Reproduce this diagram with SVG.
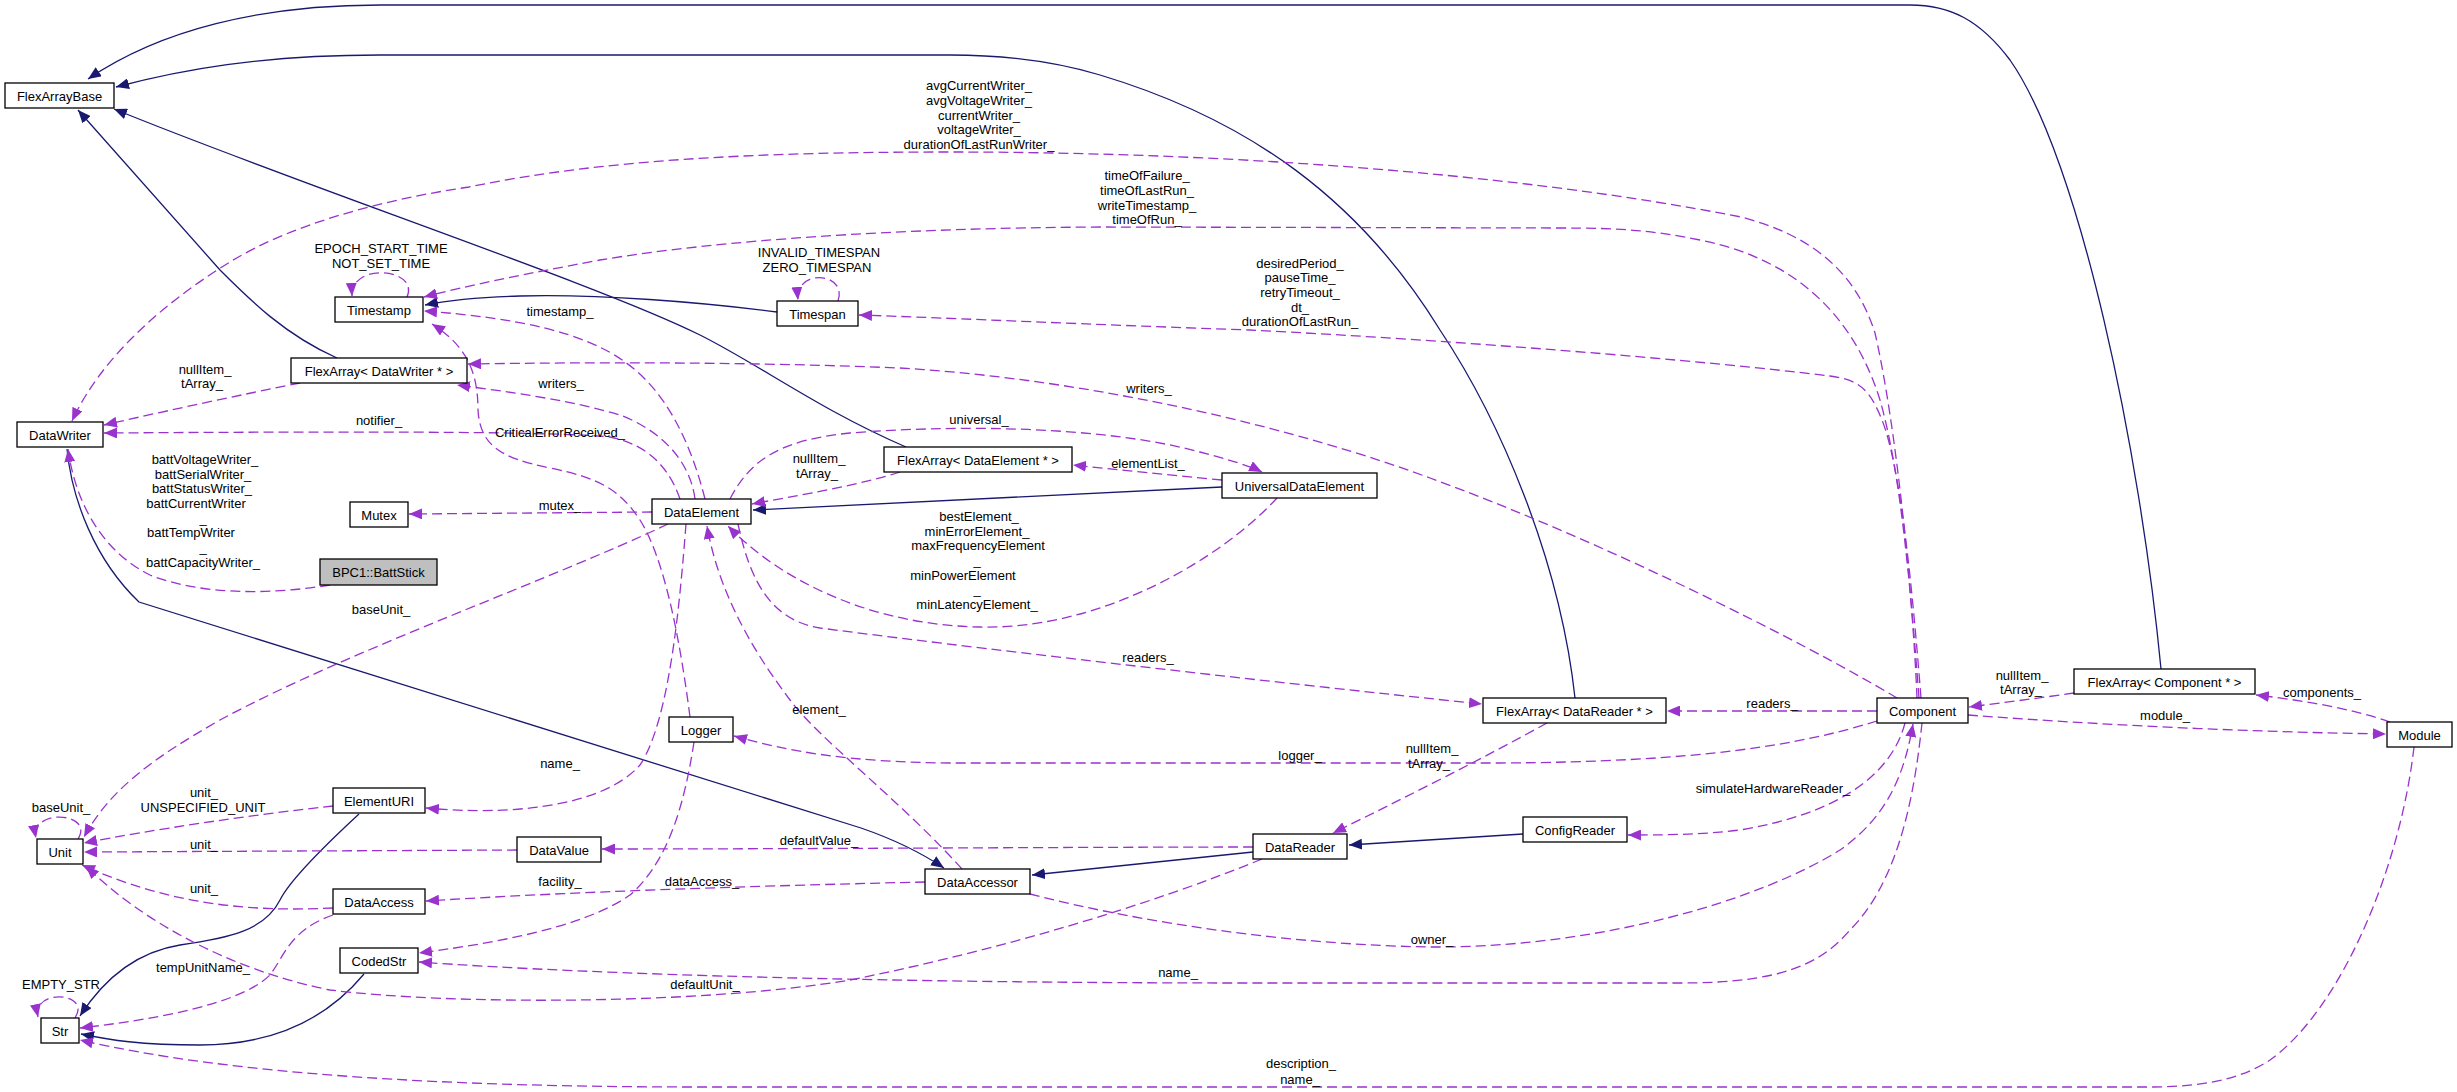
<svg xmlns="http://www.w3.org/2000/svg" width="2457" height="1092" viewBox="0 0 2457 1092">
<style>
.n rect{fill:#fff;stroke:#000;stroke-width:1.3}
.n rect.g{fill:#bfbfbf}
text{font-family:"Liberation Sans",Arial,sans-serif;font-size:13px;fill:#000;text-anchor:middle}
.u{fill:none;stroke:#9a32cd;stroke-width:1.3;stroke-dasharray:10,5;marker-end:url(#ap)}
.i{fill:none;stroke:#191970;stroke-width:1.3;marker-end:url(#ai)}
</style>
<defs>
<marker id="ap" markerUnits="userSpaceOnUse" markerWidth="14" markerHeight="11" refX="13" refY="5.5" orient="auto"><path d="M0,0 L13,5.5 L0,11 z" fill="#9a32cd"/></marker>
<marker id="ai" markerUnits="userSpaceOnUse" markerWidth="14" markerHeight="11" refX="13" refY="5.5" orient="auto"><path d="M0,0 L13,5.5 L0,11 z" fill="#191970"/></marker>
</defs>
<rect width="2457" height="1092" fill="#fff"/>
<g id="connectors">
<path class="i" d="M2161,669 C2140,450 2080,160 2010,60 C1980,20 1950,5 1910,5 L380,5 C260,5 160,30 88,79"/>
<path class="i" d="M1575,698 C1560,560 1500,420 1440,330 C1360,200 1250,120 1100,75 C1050,60 1000,55 950,55 L380,55 C260,55 180,70 116,87"/>
<path class="i" d="M906,447 C820,410 760,365 700,335 C600,285 300,185 114,109"/>
<path class="i" d="M337,358 C285,335 250,300 220,270 L78,110"/>
<path class="i" d="M777,312 C700,302 600,294 520,296 C480,297 450,300 425,305"/>
<path class="i" d="M1222,487 L753,510"/>
<path class="i" d="M67,449 C72,500 95,560 139,602 L861,828 C890,838 920,852 944,868"/>
<path class="i" d="M1253,852 L1032,875"/>
<path class="i" d="M1523,834 L1349,845"/>
<path class="i" d="M359,814 C320,850 290,880 280,900 C265,930 230,938 180,945 C130,953 100,985 80,1016"/>
<path class="i" d="M364,974 C330,1015 280,1045 200,1045 C140,1045 110,1040 81,1034"/>

<path class="u" d="M1917,698 C1912,580 1895,420 1875,333 C1855,270 1810,235 1741,217 C1500,170 1200,152 951,152 C750,152 600,160 469,187 C380,200 290,225 230,262 C160,305 100,360 72,421"/>
<path class="u" d="M1919,698 C1910,580 1900,470 1880,400 C1855,320 1800,260 1700,240 C1650,230 1620,228 1560,228 L1100,227 C900,228 720,240 600,260 C520,275 470,285 424,297"/>
<path class="u" d="M1921,698 C1914,610 1902,470 1882,420 C1870,390 1860,380 1830,376 C1700,360 1450,340 1250,330 C1100,325 950,318 859,315"/>
<path class="u" d="M1897,698 C1800,640 1600,540 1430,478 C1300,430 1100,380 900,368 C750,362 600,362 468,364"/>
<path class="u" d="M695,499 C690,460 660,430 620,415 C570,400 510,392 457,385"/>
<path class="u" d="M680,499 C670,470 650,445 610,437 C560,432 400,431 104,433"/>
<path class="u" d="M705,499 C690,440 665,390 625,362 C585,333 520,318 424,311"/>
<path class="u" d="M690,717 C680,640 665,560 640,520 C620,490 600,478 550,468 C500,458 480,445 478,410 C478,370 465,345 432,324"/>
<path class="u" d="M652,512 L409,514"/>
<path class="u" d="M330,585 C270,595 200,595 150,575 C100,550 75,500 68,449"/>
<path class="u" d="M668,524 C550,580 350,650 220,720 C150,760 110,790 84,837"/>
<path class="u" d="M686,524 C680,600 670,720 640,765 C600,810 500,815 426,808"/>
<path class="u" d="M730,499 C750,460 780,440 850,433 C950,425 1100,425 1200,452 C1230,460 1250,466 1262,472"/>
<path class="u" d="M900,472 C860,485 800,495 752,504"/>
<path class="u" d="M1222,480 C1170,475 1120,470 1073,465"/>
<path class="u" d="M1277,498 C1220,560 1100,630 980,627 C870,625 780,580 728,526"/>
<path class="u" d="M738,524 C750,580 770,620 820,628 C950,645 1250,680 1482,704"/>
<path class="u" d="M962,869 C900,800 820,740 790,700 C760,660 720,600 707,526"/>
<path class="u" d="M1877,721 C1800,745 1700,762 1500,763 L950,763 C850,762 790,752 734,736"/>
<path class="u" d="M1877,711 L1667,711"/>
<path class="u" d="M1547,723 C1480,760 1400,800 1333,833"/>
<path class="u" d="M1905,723 C1890,780 1830,815 1740,830 C1700,835 1660,835 1628,835"/>
<path class="u" d="M2074,693 C2040,698 2000,703 1969,707"/>
<path class="u" d="M1968,715 C2100,725 2250,732 2386,734"/>
<path class="u" d="M2390,722 C2350,708 2300,700 2256,695"/>
<path class="u" d="M2414,747 C2400,870 2340,1010 2270,1060 C2240,1080 2200,1087 2150,1087 L700,1087 C450,1087 230,1075 80,1040"/>
<path class="u" d="M1030,894 C1150,925 1300,945 1430,947 C1600,948 1760,900 1840,850 C1890,815 1905,770 1913,724"/>
<path class="u" d="M1922,723 C1915,790 1900,880 1850,930 C1820,965 1780,983 1680,983 L1250,983 C900,983 600,975 419,962"/>
<path class="u" d="M1253,847 C1100,847 800,849 602,849"/>
<path class="u" d="M1262,859 C1150,905 1000,950 850,980 C700,1005 450,1005 330,990 C230,970 140,920 86,866"/>
<path class="u" d="M925,882 C800,885 600,890 426,901"/>
<path class="u" d="M694,742 C685,800 670,860 630,895 C580,930 480,945 419,953"/>
<path class="u" d="M333,806 C250,815 150,830 84,843"/>
<path class="u" d="M517,850 L84,852"/>
<path class="u" d="M333,908 C250,912 170,905 82,865"/>
<path class="u" d="M333,915 C290,930 285,955 270,975 C240,1005 150,1020 80,1028"/>
<path class="u" d="M300,383 C240,395 170,410 104,425"/>
<path class="u" d="M407,297 C420,268 350,262 352,296"/>
<path class="u" d="M838,301 C848,272 795,268 798,300"/>
<path class="u" d="M78,839 C95,812 30,808 36,838"/>
<path class="u" d="M75,1018 C92,992 32,988 38,1017"/>

<text x="979" y="90">avgCurrentWriter_</text>
<text x="979" y="105">avgVoltageWriter_</text>
<text x="979" y="120">currentWriter_</text>
<text x="979" y="134">voltageWriter_</text>
<text x="979" y="149">durationOfLastRunWriter_</text>
<text x="1147" y="180">timeOfFailure_</text>
<text x="1147" y="195">timeOfLastRun_</text>
<text x="1147" y="210">writeTimestamp_</text>
<text x="1147" y="224">timeOfRun_</text>
<text x="1300" y="268">desiredPeriod_</text>
<text x="1300" y="282">pauseTime_</text>
<text x="1300" y="297">retryTimeout_</text>
<text x="1300" y="312">dt_</text>
<text x="1300" y="326">durationOfLastRun_</text>
<text x="381" y="253">EPOCH_START_TIME</text>
<text x="381" y="268">NOT_SET_TIME</text>
<text x="819" y="257">INVALID_TIMESPAN</text>
<text x="817" y="272">ZERO_TIMESPAN</text>
<text x="560" y="316">timestamp_</text>
<text x="205" y="374">nullItem_</text>
<text x="202" y="388">tArray_</text>
<text x="561" y="388">writers_</text>
<text x="1149" y="393">writers_</text>
<text x="379" y="425">notifier_</text>
<text x="560" y="437">CriticalErrorReceived_</text>
<text x="979" y="424">universal_</text>
<text x="819" y="463">nullItem_</text>
<text x="817" y="478">tArray_</text>
<text x="1148" y="468">elementList_</text>
<text x="560" y="510">mutex_</text>
<text x="979" y="521">bestElement_</text>
<text x="977" y="536">minErrorElement_</text>
<text x="978" y="550">maxFrequencyElement</text>
<text x="977" y="565">_</text>
<text x="963" y="580">minPowerElement</text>
<text x="977" y="594">_</text>
<text x="977" y="609">minLatencyElement_</text>
<text x="205" y="464">battVoltageWriter_</text>
<text x="203" y="479">battSerialWriter_</text>
<text x="202" y="493">battStatusWriter_</text>
<text x="196" y="508">battCurrentWriter</text>
<text x="203" y="523">_</text>
<text x="191" y="537">battTempWriter</text>
<text x="203" y="552">_</text>
<text x="203" y="567">battCapacityWriter_</text>
<text x="381" y="614">baseUnit_</text>
<text x="1148" y="662">readers_</text>
<text x="1772" y="708">readers_</text>
<text x="2022" y="680">nullItem_</text>
<text x="2021" y="694">tArray_</text>
<text x="2322" y="697">components_</text>
<text x="2165" y="720">module_</text>
<text x="819" y="714">element_</text>
<text x="1432" y="753">nullItem_</text>
<text x="1429" y="768">tArray_</text>
<text x="1300" y="760">logger_</text>
<text x="560" y="768">name_</text>
<text x="1773" y="793">simulateHardwareReader_</text>
<text x="204" y="797">unit_</text>
<text x="203" y="812">UNSPECIFIED_UNIT</text>
<text x="61" y="812">baseUnit_</text>
<text x="819" y="845">defaultValue_</text>
<text x="204" y="849">unit_</text>
<text x="560" y="886">facility_</text>
<text x="702" y="886">dataAccess_</text>
<text x="204" y="893">unit_</text>
<text x="1432" y="944">owner_</text>
<text x="203" y="972">tempUnitName_</text>
<text x="1178" y="977">name_</text>
<text x="705" y="989">defaultUnit_</text>
<text x="61" y="989">EMPTY_STR</text>
<text x="1301" y="1068">description_</text>
<text x="1300" y="1084">name_</text>
</g>
<g id="FlexArrayBase" class="n"><rect x="5" y="83" width="109" height="25"/><text x="59.5" y="100.5">FlexArrayBase</text></g>
<g id="Timestamp" class="n"><rect x="335" y="297" width="88" height="25"/><text x="379" y="314.5">Timestamp</text></g>
<g id="Timespan" class="n"><rect x="777" y="301" width="81" height="25"/><text x="817.5" y="318.5">Timespan</text></g>
<g id="FlexArrayDataWriter" class="n"><rect x="291" y="358" width="176" height="25"/><text x="379" y="375.5">FlexArray&lt; DataWriter * &gt;</text></g>
<g id="DataWriter" class="n"><rect x="17" y="422" width="86" height="25"/><text x="60" y="439.5">DataWriter</text></g>
<g id="FlexArrayDataElement" class="n"><rect x="884" y="447" width="188" height="25"/><text x="978" y="464.5">FlexArray&lt; DataElement * &gt;</text></g>
<g id="UniversalDataElement" class="n"><rect x="1222" y="473" width="155" height="25"/><text x="1299.5" y="490.5">UniversalDataElement</text></g>
<g id="DataElement" class="n"><rect x="652" y="499" width="99" height="25"/><text x="701.5" y="516.5">DataElement</text></g>
<g id="Mutex" class="n"><rect x="350" y="502" width="58" height="25"/><text x="379" y="519.5">Mutex</text></g>
<g id="BattStick" class="n"><rect class="g" x="320" y="559" width="117" height="26"/><text x="378.5" y="577">BPC1::BattStick</text></g>
<g id="FlexArrayComponent" class="n"><rect x="2074" y="669" width="181" height="25"/><text x="2164.5" y="686.5">FlexArray&lt; Component * &gt;</text></g>
<g id="FlexArrayDataReader" class="n"><rect x="1483" y="698" width="183" height="25"/><text x="1574.5" y="715.5">FlexArray&lt; DataReader * &gt;</text></g>
<g id="Component" class="n"><rect x="1877" y="698" width="91" height="25"/><text x="1922.5" y="715.5">Component</text></g>
<g id="Logger" class="n"><rect x="669" y="717" width="64" height="25"/><text x="701" y="734.5">Logger</text></g>
<g id="Module" class="n"><rect x="2387" y="722" width="65" height="25"/><text x="2419.5" y="739.5">Module</text></g>
<g id="ElementURI" class="n"><rect x="333" y="788" width="92" height="25"/><text x="379" y="805.5">ElementURI</text></g>
<g id="ConfigReader" class="n"><rect x="1523" y="817" width="104" height="25"/><text x="1575" y="834.5">ConfigReader</text></g>
<g id="DataReader" class="n"><rect x="1253" y="834" width="94" height="25"/><text x="1300" y="851.5">DataReader</text></g>
<g id="DataValue" class="n"><rect x="517" y="837" width="84" height="25"/><text x="559" y="854.5">DataValue</text></g>
<g id="Unit" class="n"><rect x="37" y="839" width="46" height="25"/><text x="60" y="856.5">Unit</text></g>
<g id="DataAccessor" class="n"><rect x="925" y="869" width="105" height="25"/><text x="977.5" y="886.5">DataAccessor</text></g>
<g id="DataAccess" class="n"><rect x="333" y="889" width="92" height="25"/><text x="379" y="906.5">DataAccess</text></g>
<g id="CodedStr" class="n"><rect x="340" y="948" width="78" height="25"/><text x="379" y="965.5">CodedStr</text></g>
<g id="Str" class="n"><rect x="41" y="1018" width="38" height="25"/><text x="60" y="1035.5">Str</text></g>
</svg>
